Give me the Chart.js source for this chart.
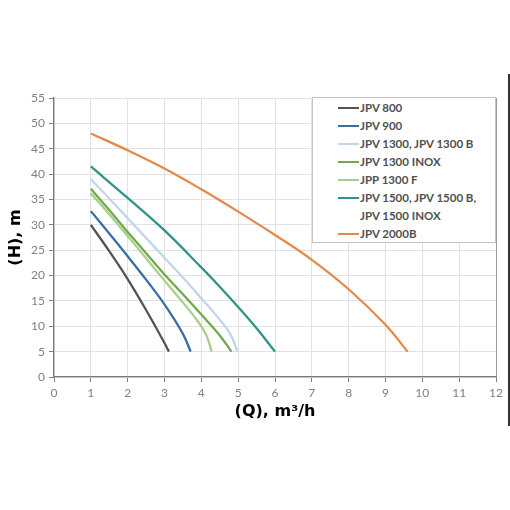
<!DOCTYPE html>
<html>
<head>
<meta charset="utf-8">
<script src="https://cdn.jsdelivr.net/npm/chart.js@4.4.1/dist/chart.umd.min.js"></script>
<style>
  html, body { margin:0; padding:0; background:#fff; }
  #wrap { position:relative; width:510px; height:510px; overflow:hidden; }
  #legend { position:absolute; left:312px; top:97px; width:184px; height:146px; background:#fff;
            border:1px solid #c4c4c4; padding-top:1px; box-sizing:border-box;
            font-family:Lato, "Open Sans", sans-serif; font-weight:700; font-size:11.5px; color:#505050; }
  .li { position:relative; padding-left:47px; line-height:18px; white-space:pre-line; }
  .sw { position:absolute; left:25px; top:8px; width:21px; height:2px; }
  #rule { position:absolute; left:508px; top:74px; width:2px; height:352px; background:#333; }
</style>
</head>
<body>
<div id="wrap">
  <canvas id="c" width="510" height="510"></canvas>
  <div id="legend"></div>
  <div id="rule"></div>
</div>
<script>
// ---- data ----
const seriesNames = ["JPV 800", "JPV 900", "JPV 1300, JPV 1300 B", "JPV 1300 INOX", "JPP 1300 F", "JPV 1500, JPV 1500 B,\nJPV 1500 INOX", "JPV 2000B"];
const seriesColors = ["#545454", "#3a6ea5", "#c3d5e8", "#72a94e", "#a8cf8c", "#2f9485", "#e4894c"];

const jpv800Q = [1, 1.5, 2, 2.5, 3, 3.12];
const jpv800H = [30, 24.8, 19.3, 13.2, 6.7, 5];

const jpv900Q = [1, 1.5, 2, 2.5, 3, 3.5, 3.71];
const jpv900H = [32.7, 28.3, 23.8, 19.2, 14.3, 8.5, 5];

const jpv1300Q = [1, 1.5, 2, 2.5, 3, 3.5, 4, 4.5, 4.8, 4.98];
const jpv1300H = [39, 35.2, 31.3, 27.4, 23.5, 19.6, 15.5, 11.3, 8.3, 5];

const jpv1300inoxQ = [1, 1.5, 2, 2.5, 3, 3.5, 4, 4.5, 4.82];
const jpv1300inoxH = [37.1, 32.9, 28.6, 24.4, 20.2, 16.3, 12.3, 8.2, 5];

const jpp1300fQ = [1, 1.5, 2, 2.5, 3, 3.5, 3.8, 4, 4.15, 4.28];
const jpp1300fH = [36.2, 32.1, 27.8, 23.4, 19.0, 14.7, 12, 10, 8, 5];

const jpv1500Q = [1, 2, 3, 4, 4.5, 5, 5.5, 6];
const jpv1500H = [41.5, 35.3, 28.9, 21.6, 17.8, 13.8, 9.6, 5];

const jpv2000Q = [1, 2, 3, 4, 5, 6, 7, 8, 9, 9.6];
const jpv2000H = [48, 44.7, 41.1, 37, 32.6, 28, 23.1, 17.3, 10.3, 5];

const qTicksMax = 12;
const hTicksMax = 55;
const xTitle = "(Q), m³/h";
const yTitle = "(H), m";

const allQ = [jpv800Q, jpv900Q, jpv1300Q, jpv1300inoxQ, jpp1300fQ, jpv1500Q, jpv2000Q];
const allH = [jpv800H, jpv900H, jpv1300H, jpv1300inoxH, jpp1300fH, jpv1500H, jpv2000H];

const datasets = seriesNames.map((name, i) => ({
  label: name,
  data: allQ[i].map((q, k) => ({ x: q, y: allH[i][k] })),
  borderColor: seriesColors[i],
  backgroundColor: seriesColors[i],
  borderWidth: 2.3,
  pointRadius: 0,
  showLine: true,
  tension: 0.4,
  fill: false
}));

const tickFont = { family: "Lato, 'Open Sans', sans-serif", size: 12 };
const titleFont = { family: "'DejaVu Sans', sans-serif", size: 16, weight: 'bold' };

const chart = new Chart(document.getElementById('c'), {
  type: 'scatter',
  data: { datasets },
  options: {
    responsive: false,
    animation: false,
    layout: { padding: { left: 0, top: 98, right: 14, bottom: 85 } },
    plugins: { legend: { display: false }, tooltip: { enabled: false } },
    scales: {
      x: {
        type: 'linear', min: 0, max: qTicksMax,
        afterFit: s => { s.height = 48; },
        ticks: { stepSize: 1, color: '#808080', font: tickFont, padding: 4 },
        grid: { color: c => (c.tick && c.tick.value === qTicksMax) ? '#9a9a9a' : '#e2e2e2', tickColor: '#808080', tickLength: 5, lineWidth: 1 },
        border: { color: '#7a7a7a', width: 1.3 },
        title: { display: true, text: xTitle, color: '#000', font: titleFont, padding: { top: 4, bottom: 4 } }
      },
      y: {
        type: 'linear', min: 0, max: hTicksMax,
        afterFit: s => { s.width = 54; },
        ticks: { stepSize: 5, color: '#808080', font: tickFont, padding: 4 },
        grid: { color: '#e2e2e2', tickColor: '#808080', tickLength: 5, lineWidth: 1 },
        border: { color: '#7a7a7a', width: 1.3 },
        title: { display: true, text: yTitle, color: '#000', font: titleFont, padding: { top: 6, bottom: 4 } }
      }
    }
  }
});

// HTML legend built from the chart's datasets
const leg = document.getElementById('legend');
chart.data.datasets.forEach(ds => {
  const row = document.createElement('div');
  row.className = 'li';
  const sw = document.createElement('span');
  sw.className = 'sw';
  sw.style.background = ds.borderColor;
  row.appendChild(sw);
  row.appendChild(document.createTextNode(ds.label));
  leg.appendChild(row);
});
</script>
</body>
</html>
